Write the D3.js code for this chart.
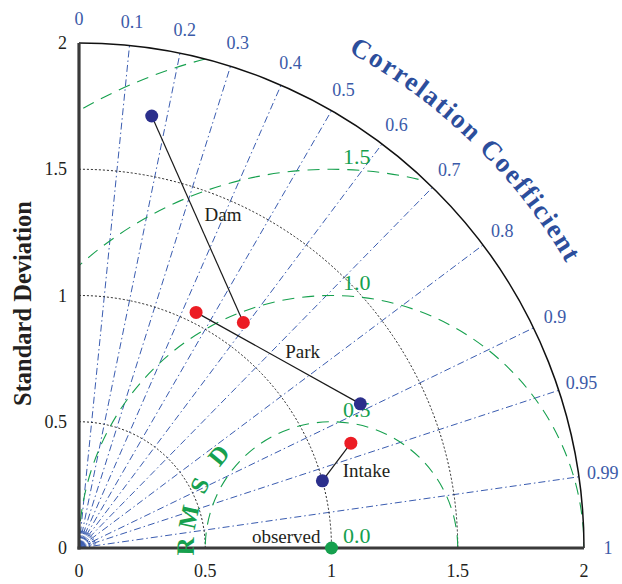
<!DOCTYPE html>
<html>
<head>
<meta charset="utf-8">
<script src="https://cdn.jsdelivr.net/npm/d3@7"></script>
<style>
  body { margin: 0; background: #fff; }
  svg { display: block; font-family: "Liberation Serif", "Times New Roman", serif; }
</style>
</head>
<body>
<svg id="chart" width="622" height="584"></svg>
<script>
// ---------- data ----------
const sdTicks = [0, 0.5, 1, 1.5, 2];
const sdTickLabels = ["0", "0.5", "1", "1.5", "2"];
const sdArcs = [0.5, 1, 1.5];
const corrTicks = [0, 0.1, 0.2, 0.3, 0.4, 0.5, 0.6, 0.7, 0.8, 0.9, 0.95, 0.99, 1];
const corrTickLabels = ["0", "0.1", "0.2", "0.3", "0.4", "0.5", "0.6", "0.7", "0.8", "0.9", "0.95", "0.99", "1"];
const corrLines = [0.1, 0.2, 0.3, 0.4, 0.5, 0.6, 0.7, 0.8, 0.9, 0.95, 0.99];
const corrMinor = [0.05, 0.15, 0.25, 0.35, 0.45, 0.55, 0.65, 0.75, 0.85, 0.92, 0.97];
const rmsdRadii = [0.5, 1, 1.5, 2];
const rmsdLabelVals = [0, 0.5, 1, 1.5];
const rmsdLabels = ["0.0", "0.5", "1.0", "1.5"];
const rmsdTitle = ["R", "M", "S", "D"];

const sites = ["Dam", "Park", "Intake"];
const blueSd = [1.735, 1.252, 1.000];
const blueCorr = [0.166, 0.890, 0.964];
const redSd = [1.105, 1.042, 1.154];
const redCorr = [0.589, 0.445, 0.933];
const observed = { name: "observed", sd: 1, corr: 1 };

// ---------- layout ----------
const svg = d3.select("#chart");
const x = d3.scaleLinear().domain([0, 2]).range([79, 584]);
const y = d3.scaleLinear().domain([0, 2]).range([548, 43]);
const rpx = d3.scaleLinear().domain([0, 2]).range([0, 505]);
const ox = x(0), oy = y(0);
const deg = Math.PI / 180;

const BLUE_LN = "#3a5cb0", BLUE_TX = "#3b5aa8", TITLE_BLUE = "#2c4e9c";
const GREEN = "#16a04e", DOT_BLUE = "#2b2f8c", DOT_RED = "#ec1c24";

const px = (sd, c) => x(sd * c);
const py = (sd, c) => y(sd * Math.sqrt(Math.max(0, 1 - c * c)));

// clip to the quarter disk
const defs = svg.append("defs");
const clipP = d3.path();
clipP.moveTo(ox, oy);
clipP.arc(ox, oy, rpx(2), -Math.PI / 2, 0);
clipP.closePath();
defs.append("clipPath").attr("id", "quarter").append("path").attr("d", clipP.toString());

const grid = svg.append("g");

// correlation rays
grid.selectAll("line.corr").data(corrLines).join("line")
  .attr("x1", ox).attr("y1", oy)
  .attr("x2", c => px(2, c)).attr("y2", c => py(2, c))
  .attr("stroke", BLUE_LN).attr("stroke-width", 1)
  .attr("stroke-dasharray", "7,3,1.5,3");

grid.selectAll("line.minor").data(corrMinor).join("line")
  .attr("x1", ox).attr("y1", oy)
  .attr("x2", c => px(0.07, c)).attr("y2", c => py(0.07, c))
  .attr("stroke", BLUE_LN).attr("stroke-width", 1)
  .attr("stroke-dasharray", "3,2");

// std dev arcs (dotted)
grid.selectAll("path.sd").data(sdArcs).join("path")
  .attr("d", s => { const p = d3.path(); p.arc(ox, oy, rpx(s), -Math.PI / 2, 0); return p.toString(); })
  .attr("fill", "none").attr("stroke", "#222").attr("stroke-width", 1)
  .attr("stroke-dasharray", "2,2");

// RMSD circles (green dashed)
grid.append("g").attr("clip-path", "url(#quarter)")
  .selectAll("circle").data(rmsdRadii).join("circle")
  .attr("cx", x(observed.sd)).attr("cy", oy).attr("r", d => rpx(d))
  .attr("fill", "none").attr("stroke", GREEN).attr("stroke-width", 1.1)
  .attr("stroke-dasharray", "12,8");

// outer arc
const outer = d3.path();
outer.arc(ox, oy, rpx(2), -Math.PI / 2, 0);
svg.append("path").attr("d", outer.toString())
  .attr("fill", "none").attr("stroke", "#111").attr("stroke-width", 1.5);

// axes
svg.append("line").attr("x1", ox).attr("y1", y(2)).attr("x2", ox).attr("y2", oy + 1.5)
  .attr("stroke", "#3a3a3a").attr("stroke-width", 3.2);
svg.append("line").attr("x1", ox - 1.5).attr("y1", oy).attr("x2", x(2)).attr("y2", oy)
  .attr("stroke", "#3a3a3a").attr("stroke-width", 3.2);

// axis tick labels
svg.selectAll("text.xt").data(sdTicks).join("text")
  .attr("x", d => x(d)).attr("y", oy + 29)
  .attr("text-anchor", "middle").attr("font-size", 18).attr("fill", "#231f20")
  .text((d, i) => sdTickLabels[i]);
svg.selectAll("text.yt").data(sdTicks).join("text")
  .attr("x", ox - 12).attr("y", d => y(d) + 6)
  .attr("text-anchor", "end").attr("font-size", 18).attr("fill", "#231f20")
  .text((d, i) => sdTickLabels[i]);

svg.append("text")
  .attr("transform", `translate(31,${y(1) + 8}) rotate(-90)`)
  .attr("text-anchor", "middle").attr("font-size", 24.5).attr("font-weight", "bold")
  .attr("fill", "#231f20").text("Standard Deviation");

// correlation labels
svg.selectAll("text.ct").data(corrTicks).join("text")
  .attr("x", c => px(2.095, c)).attr("y", c => py(2.095, c))
  .attr("text-anchor", "middle").attr("dominant-baseline", "central")
  .attr("font-size", 18).attr("fill", BLUE_TX)
  .text((d, i) => corrTickLabels[i]);

// title along arc
const tp = d3.path();
tp.arc(ox, oy, rpx(2.235), -61.5 * deg, -20 * deg);
defs.append("path").attr("id", "corrArc").attr("d", tp.toString());
svg.append("text").attr("font-size", 27).attr("font-weight", "bold")
  .attr("fill", TITLE_BLUE).attr("letter-spacing", 1.8)
  .append("textPath").attr("href", "#corrArc").text("Correlation Coefficient");

// RMSD along circle, letters placed by angle from the axis
const rR = rpx(0.545);
const rp = d3.path();
rp.arc(x(observed.sd), oy, rR, -184 * deg, -100 * deg);
defs.append("path").attr("id", "rmsdArc").attr("d", rp.toString());
const rmsdAng = [4.6, 16.3, 29.4, 43.5];
svg.append("g").selectAll("text").data(rmsdTitle).join("text")
  .attr("font-size", 25).attr("font-weight", "bold").attr("fill", GREEN)
  .attr("text-anchor", "middle")
  .append("textPath").attr("href", "#rmsdArc")
  .attr("startOffset", (d, i) => rR * rmsdAng[i] * deg)
  .text(d => d);

// RMSD labels
svg.selectAll("text.rl").data(rmsdLabelVals).join("text")
  .attr("x", x(1.1)).attr("y", d => y(d + 0.02))
  .attr("text-anchor", "middle").attr("font-size", 22).attr("fill", GREEN)
  .text((d, i) => rmsdLabels[i]);

// ---------- points ----------
const pts = sites.map((s, i) => ({
  name: s,
  b: [px(blueSd[i], blueCorr[i]), py(blueSd[i], blueCorr[i])],
  r: [px(redSd[i], redCorr[i]), py(redSd[i], redCorr[i])]
}));
const nudge = { Dam: [7, 2], Park: [7, 0], Intake: [6, 15] };

const pg = svg.append("g");
pg.selectAll("line.link").data(pts).join("line")
  .attr("x1", d => d.b[0]).attr("y1", d => d.b[1])
  .attr("x2", d => d.r[0]).attr("y2", d => d.r[1])
  .attr("stroke", "#1a1a1a").attr("stroke-width", 1.2);

pg.selectAll("text.lbl").data(pts).join("text")
  .attr("x", d => (d.b[0] + d.r[0]) / 2 + nudge[d.name][0])
  .attr("y", d => (d.b[1] + d.r[1]) / 2 + nudge[d.name][1])
  .attr("font-size", 19).attr("fill", "#231f20")
  .text(d => d.name);

pg.selectAll("circle.b").data(pts).join("circle")
  .attr("cx", d => d.b[0]).attr("cy", d => d.b[1]).attr("r", 6.5).attr("fill", DOT_BLUE);
pg.selectAll("circle.r").data(pts).join("circle")
  .attr("cx", d => d.r[0]).attr("cy", d => d.r[1]).attr("r", 6.5).attr("fill", DOT_RED);

pg.append("circle").attr("cx", px(observed.sd, observed.corr)).attr("cy", py(observed.sd, observed.corr))
  .attr("r", 6.5).attr("fill", GREEN);
pg.append("text").attr("x", px(observed.sd, observed.corr) - 11).attr("y", oy - 5)
  .attr("text-anchor", "end").attr("font-size", 19).attr("fill", "#231f20")
  .text(observed.name);
</script>
</body>
</html>
